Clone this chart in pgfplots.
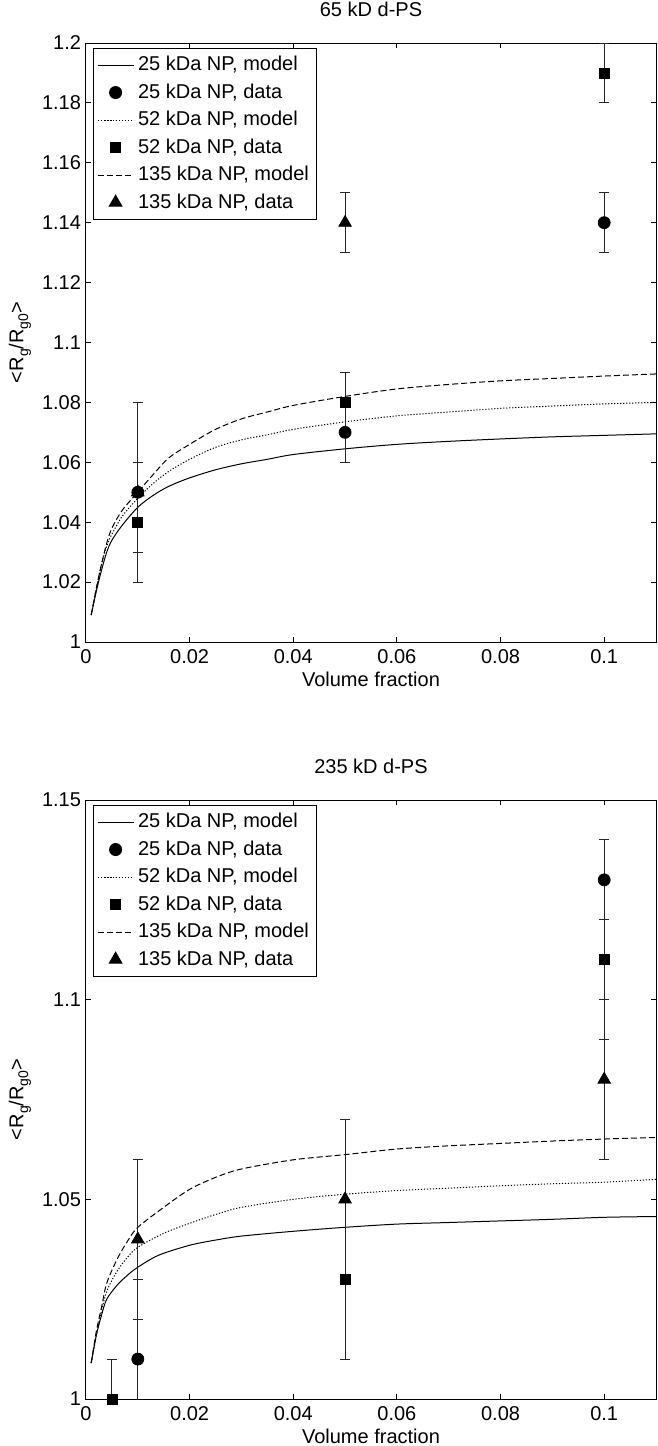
\documentclass[border=0pt]{standalone}
\usepackage{fontspec}
\setmainfont{Liberation Sans}
\usepackage{pgfplots}
\pgfplotsset{compat=1.18}

\newcommand{\figfont}{\fontsize{10}{12}\selectfont}
\newcommand{\sub}[1]{\raisebox{-0.45ex}{\fontsize{7}{8}\selectfont #1}}

\pgfplotsset{
  rgaxis/.style={
    scale only axis, width=285pt, height=299.5pt,
    xmin=0, xmax=0.11, ymin=1,
    xtick={0,0.02,0.04,0.06,0.08,0.1},
    xticklabels={0,0.02,0.04,0.06,0.08,0.1},
    scaled ticks=false,
    tick align=inside, xtick pos=both, ytick pos=both,
    major tick length=2.5pt,
    axis line style={line width=0.5pt},
    every tick/.style={black, line width=0.5pt},
    tick label style={font=\figfont},
    yticklabel style={xshift=1pt},
    label style={font=\figfont},
    title style={font=\figfont, at={(axis description cs:0.5,1.036)}, anchor=center},
    xlabel={Volume fraction},
    ylabel={<R\sub{g}/R\sub{g0}>},
    xlabel style={at={(axis description cs:0.5,-0.062)}, anchor=center},
    ylabel style={at={(axis description cs:-0.116,0.5)}, anchor=center},
    legend cell align=left,
    legend style={at={(0,1)}, anchor=north west, xshift=3.3pt, yshift=-2.4pt,
      draw=black, line width=0.5pt, fill=white, font=\figfont, row sep=1pt,
      inner xsep=2pt},
    legend image code/.code={\draw[mark repeat=2,mark phase=2,##1] plot coordinates {(0pt,0pt) (9pt,0pt) (18pt,0pt)};},
    error bars/error bar style={line width=0.45pt, black!85},
    error bars/error mark options={rotate=90, mark size=2.5pt, line width=0.45pt, black!85},
  },
  model/.style={black, line width=0.5pt, mark=none, smooth},
  dat/.style={black, only marks, error bars/y dir=both, error bars/y explicit},
}

\begin{document}
\begin{tikzpicture}
\useasboundingbox (0,0) rectangle (329pt,-723pt);

% upper panel
\begin{axis}[rgaxis, at={(43pt,-21.5pt)}, anchor=north west,
  ymax=1.2, ytick={1,1.02,1.04,1.06,1.08,1.1,1.12,1.14,1.16,1.18,1.2},
  yticklabels={1,1.02,1.04,1.06,1.08,1.1,1.12,1.14,1.16,1.18,1.2},
  title={65 kD d-PS}]
\addplot[model] coordinates {
  (0.001,1.009) (0.002,1.017) (0.003,1.024) (0.004,1.030) (0.005,1.034)
  (0.007,1.039) (0.01,1.045) (0.013,1.049) (0.016,1.052) (0.02,1.0548)
  (0.025,1.0575) (0.03,1.0595) (0.035,1.061) (0.04,1.0626) (0.05,1.0645)
  (0.06,1.066) (0.07,1.067) (0.08,1.0678) (0.09,1.0685) (0.1,1.069) (0.11,1.0695)
};
\addlegendentry{25 kDa NP, model}
\addplot[dat, mark=*, mark size=3pt] coordinates {
  (0.01,1.05) +- (0,0.03)
  (0.05,1.07) +- (0,0.01)
  (0.1,1.14) +- (0,0.01)
};
\addlegendentry{25 kDa NP, data}
\addplot[model, dash pattern=on 0.6pt off 0.9pt] coordinates {
  (0.001,1.009) (0.002,1.018) (0.003,1.026) (0.004,1.032) (0.005,1.036)
  (0.007,1.042) (0.01,1.048) (0.013,1.053) (0.016,1.057) (0.02,1.061)
  (0.025,1.065) (0.03,1.0675) (0.035,1.0692) (0.04,1.071) (0.05,1.0735)
  (0.06,1.0755) (0.07,1.0768) (0.08,1.078) (0.09,1.0788) (0.1,1.0795) (0.11,1.080)
};
\addlegendentry{52 kDa NP, model}
\addplot[dat, mark=square*, mark size=2.5pt] coordinates {
  (0.01,1.04) += (0,0.02) -= (0,0.01)
  (0.05,1.08) +- (0,0.01)
  (0.1,1.19) +- (0,0.01)
};
\addlegendentry{52 kDa NP, data}
\addplot[model, dash pattern=on 3pt off 1.5pt] coordinates {
  (0.001,1.009) (0.002,1.018) (0.003,1.026) (0.004,1.033) (0.005,1.038)
  (0.007,1.044) (0.01,1.050) (0.013,1.056) (0.016,1.0615) (0.02,1.066)
  (0.025,1.071) (0.03,1.0745) (0.035,1.0768) (0.04,1.079) (0.05,1.082)
  (0.06,1.0845) (0.07,1.086) (0.08,1.0872) (0.09,1.088) (0.1,1.0888) (0.11,1.0895)
};
\addlegendentry{135 kDa NP, model}
\addplot[dat, mark=triangle*, mark size=3.6pt] coordinates {
  (0.01,1.05) +- (0,0.01)
  (0.05,1.14) +- (0,0.01)
};
\addlegendentry{135 kDa NP, data}
\end{axis}

% lower panel
\begin{axis}[rgaxis, at={(43pt,-400pt)}, anchor=north west,
  ymax=1.15, ytick={1,1.05,1.1,1.15}, yticklabels={1,1.05,1.1,1.15},
  title={235 kD d-PS}]
\addplot[model] coordinates {
  (0.001,1.009) (0.002,1.016) (0.003,1.021) (0.004,1.025) (0.006,1.0285)
  (0.008,1.031) (0.01,1.033) (0.014,1.036) (0.02,1.0385) (0.025,1.0398)
  (0.03,1.0408) (0.04,1.042) (0.05,1.043) (0.06,1.0438) (0.07,1.0442)
  (0.08,1.0446) (0.09,1.045) (0.1,1.0455) (0.11,1.0457)
};
\addlegendentry{25 kDa NP, model}
\addplot[dat, mark=*, mark size=3pt] coordinates {
  (0.01,1.01) +- (0,0.02)
  (0.1,1.13) +- (0,0.01)
};
\addlegendentry{25 kDa NP, data}
\addplot[model, dash pattern=on 0.6pt off 0.9pt] coordinates {
  (0.001,1.009) (0.002,1.016) (0.003,1.022) (0.004,1.027) (0.006,1.032)
  (0.008,1.0355) (0.01,1.038) (0.015,1.0415) (0.02,1.044) (0.025,1.0462)
  (0.03,1.048) (0.04,1.05) (0.05,1.0513) (0.06,1.0522) (0.07,1.0528)
  (0.08,1.0534) (0.09,1.0539) (0.1,1.0543) (0.11,1.055)
};
\addlegendentry{52 kDa NP, model}
\addplot[dat, mark=square*, mark size=2.5pt] coordinates {
  (0.005,1.00) +- (0,0.01)
  (0.05,1.03) +- (0,0.02)
  (0.1,1.11) +- (0,0.02)
};
\addlegendentry{52 kDa NP, data}
\addplot[model, dash pattern=on 3pt off 1.5pt] coordinates {
  (0.001,1.009) (0.002,1.017) (0.003,1.023) (0.004,1.029) (0.006,1.035)
  (0.008,1.0395) (0.01,1.043) (0.015,1.048) (0.02,1.0525) (0.025,1.0555)
  (0.03,1.0576) (0.04,1.0599) (0.05,1.0612) (0.06,1.0626) (0.07,1.0634)
  (0.08,1.064) (0.09,1.0646) (0.1,1.0651) (0.11,1.0655)
};
\addlegendentry{135 kDa NP, model}
\addplot[dat, mark=triangle*, mark size=3.6pt] coordinates {
  (0.01,1.04) +- (0,0.02)
  (0.05,1.05) +- (0,0.02)
  (0.1,1.08) +- (0,0.02)
};
\addlegendentry{135 kDa NP, data}
\end{axis}
\end{tikzpicture}
\end{document}
